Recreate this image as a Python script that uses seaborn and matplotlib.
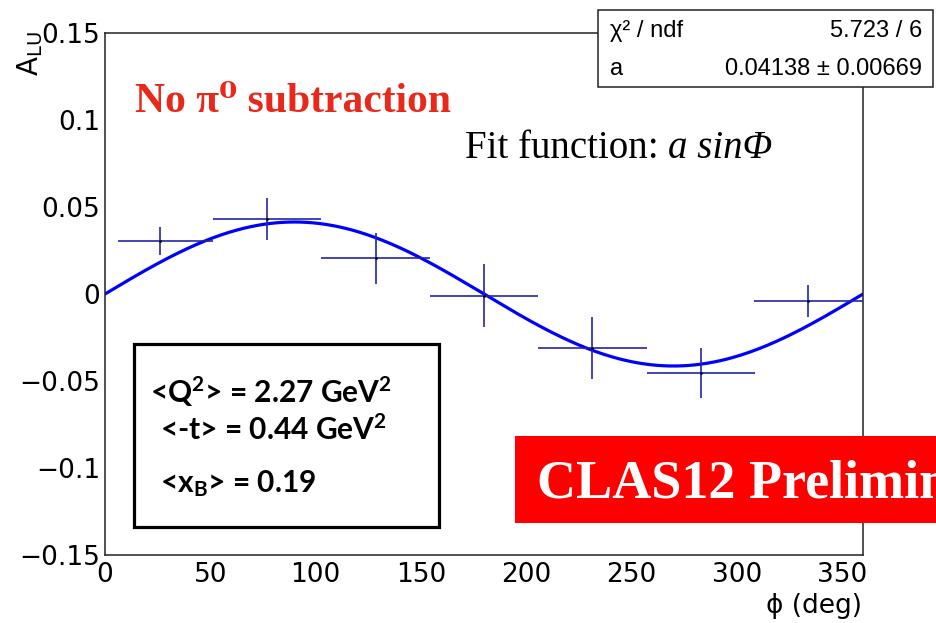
import numpy as np
import matplotlib
matplotlib.use("Agg")
import matplotlib.pyplot as plt
from matplotlib.patches import Rectangle
from matplotlib.ticker import MultipleLocator
import seaborn as sns

# Beam spin asymmetry vs phi
phi = [26.0, 77.0, 128.5, 180.0, 231.5, 283.0, 334.0]
phi_err_lo = [20.0, 25.7, 25.7, 25.7, 25.7, 25.7, 25.7]
phi_err_hi = [25.4, 25.7, 25.7, 25.7, 25.7, 25.7, 26.0]
alu = [0.0305, 0.043, 0.0205, -0.001, -0.031, -0.0455, -0.004]
alu_err = [0.008, 0.012, 0.0145, 0.018, 0.018, 0.0145, 0.009]

# fit result shown in the stat box
fit_a = 0.04138
fit_a_err = 0.00669
chi2_ndf = "5.723 / 6"

x_ticks = [0, 50, 100, 150, 200, 250, 300, 350]
y_ticks = [-0.15, -0.1, -0.05, 0, 0.05, 0.1, 0.15]
y_tick_labels = ["\u22120.15", "\u22120.1", "\u22120.05", "0", "0.05", "0.1", "0.15"]

sns.set_style("white")
plt.rcParams["font.family"] = ["DejaVu Sans"]
plt.rcParams["text.color"] = "black"
plt.rcParams["mathtext.fontset"] = "custom"
plt.rcParams["mathtext.rm"] = "Lato:bold"
plt.rcParams["mathtext.it"] = "Lato:bold"
plt.rcParams["mathtext.bf"] = "Lato:bold"

W, H = 937, 623
def fx(px):
    return px / W
def fy(py):
    return 1 - py / H

fig = plt.figure(figsize=(W / 100, H / 100), dpi=100)
ax = fig.add_axes([fx(105), fy(555), (863 - 105) / W, (555 - 33) / H])

# fit curve a*sin(phi)
phi_fine = np.linspace(0, 360, 361)
sns.lineplot(x=phi_fine, y=fit_a * np.sin(np.radians(phi_fine)), ax=ax,
             color="#0000ff", linewidth=2.3, zorder=2)

ax.errorbar(phi, alu, yerr=alu_err, xerr=[phi_err_lo, phi_err_hi], fmt="none",
            ecolor="#2424a8", elinewidth=1.2, capsize=0, zorder=3)
ax.plot(phi, alu, ".", color="black", markersize=2, zorder=4)

ax.set_xlim(0, 360)
ax.set_ylim(-0.15, 0.15)
ax.set_xticks(x_ticks)
ax.set_yticks(y_ticks)
ax.set_yticklabels(y_tick_labels)
ax.xaxis.set_minor_locator(MultipleLocator(10))
ax.yaxis.set_minor_locator(MultipleLocator(0.01))
ax.tick_params(axis="x", which="major", direction="in", length=10.8, width=1.0,
               labelsize=19, pad=5, top=False, color="#222222", labelcolor="black")
ax.tick_params(axis="x", which="minor", direction="in", length=5.8, width=1.0,
               top=False, color="#222222")
ax.tick_params(axis="y", which="major", direction="in", length=15.8, width=1.0,
               labelsize=19, pad=3.5, right=False, color="#222222", labelcolor="black")
ax.tick_params(axis="y", which="minor", direction="in", length=8.6, width=1.0,
               right=False, color="#222222")
for s in ax.spines.values():
    s.set_color("#222222")
    s.set_linewidth(1.1)
ax.set_xlabel("")
ax.set_ylabel("")

# axis titles
fig.text(fx(30), fy(31), r"$\mathregular{A_{LU}}$", rotation=90, ha="center", va="top",
         fontsize=20, math_fontfamily="dejavusans")
fig.text(fx(862), fy(606), "\u03d5 (deg)", ha="right", va="center", fontsize=19,
         family=["DejaVu Sans"])

# annotations
fig.text(fx(135), fy(112), "No \u03c0\u2070 subtraction", ha="left", va="baseline",
         fontsize=30, fontweight="bold", color="#e8281a",
         family=["Liberation Serif", "DejaVu Serif"])
fit_lbl = fig.text(fx(465), fy(158), "Fit function: ", ha="left", va="baseline",
                   fontsize=28, family=["Liberation Serif"])
renderer = fig.canvas.get_renderer()
bb = fit_lbl.get_window_extent(renderer)
fig.text(bb.x1 / W, fy(158), "a sin\u03a6", ha="left", va="baseline", fontsize=28,
         fontstyle="italic", family=["Liberation Serif"])

# stat box
fig.add_artist(Rectangle((fx(598), fy(87)), (933 - 598) / W, (87 - 10) / H,
                         transform=fig.transFigure, facecolor="white",
                         edgecolor="#222222", linewidth=1.1, zorder=5))
fig.text(fx(610), fy(37), "\u03c7\u00b2 / ndf", ha="left", va="baseline", fontsize=17,
         family=["Liberation Sans", "DejaVu Sans"], zorder=6)
fig.text(fx(922), fy(37), chi2_ndf, ha="right", va="baseline", fontsize=17,
         family=["Liberation Sans"], zorder=6)
fig.text(fx(610), fy(75), "a", ha="left", va="baseline", fontsize=17,
         family=["Liberation Sans"], zorder=6)
fig.text(fx(922), fy(75), f"{fit_a:.5f} \u00b1 {fit_a_err:.5f}", ha="right",
         va="baseline", fontsize=17, family=["Liberation Sans"], zorder=6)

# kinematics box
fig.add_artist(Rectangle((fx(134), fy(527)), (439 - 134) / W, (527 - 344) / H,
                         transform=fig.transFigure, facecolor="white",
                         edgecolor="black", linewidth=2.3, zorder=5))
kin_kw = dict(ha="left", va="baseline", fontsize=21.5, fontweight="bold",
              family=["Lato"], math_fontfamily="custom", zorder=6)
fig.text(fx(150), fy(403), r"<Q$^{2}$> = 2.27 GeV$^{2}$", **kin_kw)
fig.text(fx(160), fy(440), r"<-t> = 0.44 GeV$^{2}$", **kin_kw)
fig.text(fx(160), fy(492), r"<x$_{B}$> = 0.19", **kin_kw)

# preliminary banner (runs off the right edge)
fig.add_artist(Rectangle((fx(515), fy(523)), (960 - 515) / W, (523 - 436) / H,
                         transform=fig.transFigure, facecolor="#ff0000",
                         edgecolor="none", zorder=5))
fig.text(fx(537), fy(498), "CLAS12 Preliminary", ha="left", va="baseline",
         fontsize=39, fontweight="bold", color="white",
         family=["Liberation Serif"], zorder=6)

fig.savefig("out.png", dpi=100)
